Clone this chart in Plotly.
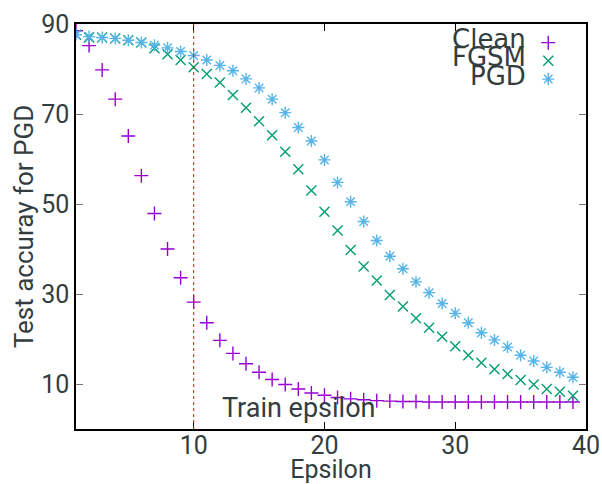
import plotly.graph_objects as go

epsilon = list(range(1, 40))
clean = [88.5, 85.2, 79.8, 73.3, 65.1, 56.3, 47.9, 40.0, 33.6, 28.2,
         23.6, 19.7, 16.8, 14.5, 12.6, 11.0, 9.9, 8.9, 8.0, 7.5,
         7.0, 6.7, 6.5, 6.3, 6.2, 6.1, 6.1, 6.0, 6.0, 6.0,
         6.0, 6.0, 6.0, 6.0, 6.0, 6.0, 6.0, 6.0, 6.0]
fgsm = [87.6, 87.0, 87.0, 86.8, 86.4, 85.9, 84.6, 83.3, 82.0, 80.4,
        78.9, 77.0, 74.2, 71.4, 68.4, 65.3, 61.6, 57.7, 53.0, 48.3,
        44.1, 39.8, 36.1, 33.0, 29.8, 27.2, 24.6, 22.5, 20.5, 18.4,
        16.4, 14.7, 13.3, 12.2, 10.9, 9.9, 8.9, 8.3, 7.4]
pgd = [87.6, 87.2, 87.0, 86.8, 86.4, 85.9, 85.3, 84.7, 83.9, 83.0,
       82.0, 80.8, 79.6, 77.8, 75.8, 73.3, 70.3, 67.0, 64.0, 59.8,
       54.8, 50.5, 46.1, 41.9, 38.4, 35.6, 32.7, 30.3, 27.9, 25.7,
       23.6, 21.4, 19.8, 18.2, 16.4, 15.1, 13.7, 12.6, 11.5]
series_names = ["Clean", "FGSM", "PGD"]
colors = ["#9400d3", "#009e73", "#56b4e9"]
symbols = ["cross-thin", "x-thin", "asterisk-open"]
train_eps = 10
x_ticks = [10, 20, 30, 40]
y_ticks = [10, 30, 50, 70, 90]

FONT = "Roboto"
KEYFONT = "DejaVu Sans"
TXT = "#333d40"

fig = go.Figure()
for name, vals, c, s in zip(series_names, [clean, fgsm, pgd], colors, symbols):
    fig.add_trace(go.Scatter(x=epsilon, y=vals, mode="markers", name=name,
                             marker=dict(symbol=s, size=10, color=c,
                                         line=dict(color=c, width=1.4)),
                             showlegend=False))

# key markers on an overlay axis, key texts right-aligned to their left
key_marker_y = [0.954, 0.909, 0.864]
key_text_y = [0.962, 0.918, 0.872]
for name, c, s, my, ty in zip(series_names, colors, symbols, key_marker_y, key_text_y):
    fig.add_trace(go.Scatter(x=[0.926], y=[my], mode="markers", xaxis="x2", yaxis="y2",
                             marker=dict(symbol=s, size=10, color=c,
                                         line=dict(color=c, width=1.4)),
                             showlegend=False, hoverinfo="skip"))
    fig.add_annotation(xref="paper", yref="paper", x=0.887, y=ty, text=name,
                       showarrow=False, xanchor="right", yanchor="middle",
                       font=dict(family=KEYFONT, size=26, color=TXT))

fig.add_shape(type="line", xref="x", yref="paper", x0=train_eps, x1=train_eps, y0=0, y1=1,
              line=dict(color="#ff0000", width=1, dash="3px,3px"))
fig.add_annotation(x=18, y=4.6, xref="x", yref="y", text="Train epsilon", showarrow=False,
                   font=dict(family=FONT, size=27, color=TXT))

fig.update_layout(
    width=602, height=484,
    margin=dict(l=76, r=16, t=24, b=55),
    plot_bgcolor="white", paper_bgcolor="white",
    font=dict(family=FONT, size=24, color=TXT),
    xaxis=dict(range=[1, 40], tickvals=x_ticks, ticks="inside", ticklen=7,
               tickcolor="black", showline=True, linecolor="black", linewidth=1.5,
               mirror="ticks", showgrid=False, zeroline=False, automargin=False,
               ticklabelstandoff=-7,
               title=dict(text="Epsilon", standoff=0, font=dict(size=25)),
               tickfont=dict(size=25)),
    yaxis=dict(range=[0, 90], tickvals=y_ticks, ticks="inside", ticklen=7,
               tickcolor="#777777", showline=True, linecolor="black", linewidth=1.5,
               mirror="ticks", showgrid=False, zeroline=False, automargin=False,
               title=dict(text="Test accuray for PGD", standoff=0, font=dict(size=26)),
               tickfont=dict(size=25)),
    xaxis2=dict(range=[0, 1], overlaying="x", visible=False),
    yaxis2=dict(range=[0, 1], overlaying="y", visible=False),
)

fig.write_html("out.html")
